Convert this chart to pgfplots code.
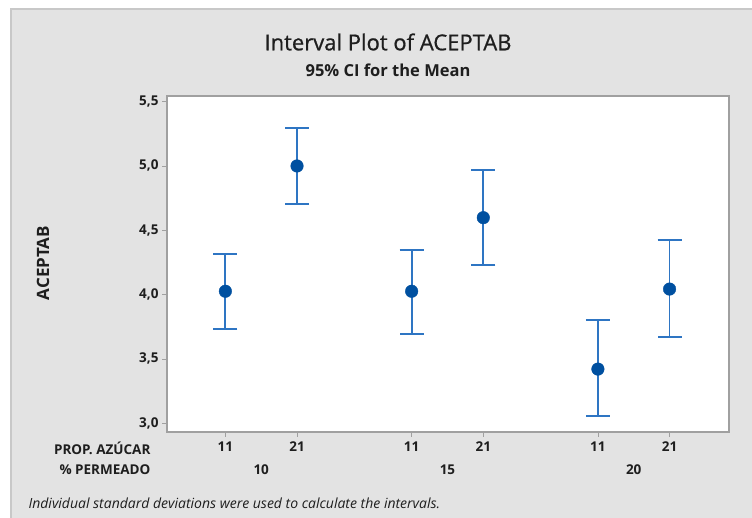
\documentclass[border=0pt]{standalone}
\usepackage{fontspec}
\setmainfont{Open Sans}
\newfontfamily\titlefont{Open Sans}[BoldFont={Open Sans}, BoldFeatures={FakeBold=0.8}]
\usepackage{pgfplots}
\pgfplotsset{compat=1.18}
\usepackage{pgfplotstable}
\definecolor{bggray}{RGB}{227,227,227}
\definecolor{bordgray}{RGB}{200,200,200}
\definecolor{axgray}{RGB}{160,160,160}
\definecolor{errblue}{RGB}{46,117,195}
\definecolor{dotblue}{RGB}{0,80,160}
\definecolor{txt}{RGB}{30,30,30}
\pgfplotstableread{
x y ep em
0   4.026 0.292 0.291
1   5.000 0.293 0.298
2.6 4.026 0.323 0.332
3.6 4.598 0.373 0.365
5.2 3.421 0.379 0.362
6.2 4.043 0.384 0.373
}\ci
\begin{document}
\begin{tikzpicture}[x=1pt,y=1pt]
\path[use as bounding box,fill=white] (0,0) rectangle (752,518);
\fill[bggray] (11,0) rectangle (752,509);
\draw[bordgray,line width=1.2pt] (11,0) -- (11,509) -- (752,509);
\node[txt,font=\fontsize{22}{24}\selectfont\titlefont\bfseries] at (388,476) {Interval Plot of ACEPTAB};
\node[txt,font=\fontsize{16.5}{18}\selectfont\bfseries] at (388,448) {95\% CI for the Mean};
\node[txt,rotate=90,font=\fontsize{17}{18}\selectfont\bfseries] at (43,255) {ACEPTAB};
\node[txt,anchor=east,font=\fontsize{13.5}{15}\selectfont\bfseries] at (154,70) {PROP. AZÚCAR};
\node[txt,anchor=east,font=\fontsize{13.5}{15}\selectfont\bfseries] at (154,48) {\% PERMEADO};
\node[txt,anchor=west,font=\fontsize{14}{16}\selectfont\itshape] at (25,15) {Individual standard deviations were used to calculate the intervals.};
\begin{axis}[
  at={(167pt,86pt)}, anchor=south west,
  width=562pt, height=336pt, scale only axis,
  xmin=-0.815, xmax=7.03, ymin=2.932, ymax=5.544,
  axis background/.style={fill=white},
  axis line style={axgray,line width=1.2pt},
  xtick={0,1,2.6,3.6,5.2,6.2},
  xticklabels={11,21,11,21,11,21},
  ytick={3,3.5,4,4.5,5,5.5},
  tick align=outside, tick pos=left,
  major tick length=5pt,
  tick style={axgray,line width=0.8pt},
  /pgf/number format/.cd, use comma, fixed, fixed zerofill, precision=1, assume math mode=true,
  /pgfplots/.cd,
  ticklabel style={txt,font=\fontsize{13.5}{15}\selectfont\bfseries},
  xticklabel style={yshift=-1pt},
  clip=false,
]
\addplot[draw=none, mark=none, forget plot,
  error bars/.cd, y dir=both, y explicit,
  error mark options={rotate=90, mark size=12pt, line width=1.8pt, draw=errblue},
  error bar style={line width=1.8pt, draw=errblue}]
  table[x=x, y=y, y error plus=ep, y error minus=em] {\ci};
\addplot[only marks, mark=*, mark size=6.3pt, draw=dotblue, fill=dotblue]
  table[x=x, y=y] {\ci};
\node[txt,font=\fontsize{13.5}{15}\selectfont\bfseries] at (axis cs:0.5,2.932) [yshift=-38pt] {10};
\node[txt,font=\fontsize{13.5}{15}\selectfont\bfseries] at (axis cs:3.1,2.932) [yshift=-38pt] {15};
\node[txt,font=\fontsize{13.5}{15}\selectfont\bfseries] at (axis cs:5.7,2.932) [yshift=-38pt] {20};
\end{axis}
\end{tikzpicture}
\end{document}
